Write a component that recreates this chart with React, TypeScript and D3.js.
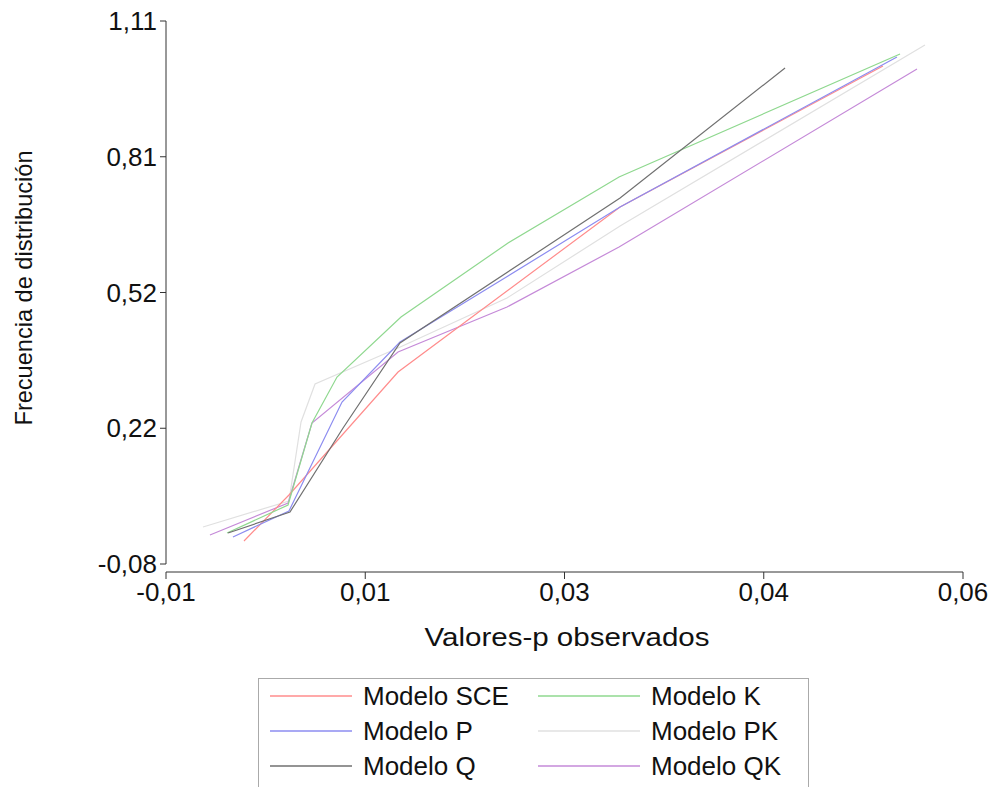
import React from "react";
import * as d3 from "d3";

const seriesNames = ["Modelo SCE", "Modelo K", "Modelo P", "Modelo PK", "Modelo Q", "Modelo QK"];
const seriesColors = ["#ff8c8c", "#8fd88f", "#8c8cf0", "#e0e0e0", "#707070", "#c58ad8"];

const sceX = [-0.00315, 0.0008, 0.01038, 0.02988, 0.05297];
const sceY = [-0.0296, 0.0712, 0.3408, 0.7024, 1.0114];
const kX = [-0.00464, 0.00072, 0.00282, 0.00502, 0.01064, 0.02004, 0.02979, 0.05447];
const kY = [-0.0121, 0.0493, 0.229, 0.3298, 0.4613, 0.6235, 0.7681, 1.0377];
const pX = [-0.00412, 0.0008, 0.00546, 0.01055, 0.02004, 0.02988, 0.0542];
const pY = [-0.0208, 0.0362, 0.275, 0.4065, 0.5512, 0.7024, 1.0311];
const pkX = [-0.00675, 0.0008, 0.00186, 0.00309, 0.01038, 0.01995, 0.02988, 0.05666];
const pkY = [0.0011, 0.0581, 0.2312, 0.3145, 0.3934, 0.5029, 0.6607, 1.0574];
const qX = [-0.00455, 0.00089, 0.00555, 0.01055, 0.02988, 0.04437];
const qY = [-0.0121, 0.034, 0.218, 0.4043, 0.7221, 1.007];
const qkX = [-0.00614, 0.00072, 0.00282, 0.01038, 0.01995, 0.02979, 0.05596];
const qkY = [-0.0164, 0.0537, 0.229, 0.3846, 0.4832, 0.6147, 1.0048];

const xTickValues = [-0.01, 0.0075, 0.025, 0.0425, 0.06];
const xTickLabels = ["-0,01", "0,01", "0,03", "0,04", "0,06"];
const yTickValues = [-0.08, 0.2175, 0.515, 0.8125, 1.11];
const yTickLabels = ["-0,08", "0,22", "0,52", "0,81", "1,11"];

const allX = [sceX, kX, pX, pkX, qX, qkX];
const allY = [sceY, kY, pY, pkY, qY, qkY];

const FONT = "'Liberation Sans', Arial, sans-serif";

export default function App() {
  const x = d3.scaleLinear().domain([-0.01, 0.06]).range([166, 963]);
  const y = d3.scaleLinear().domain([-0.08, 1.11]).range([564, 21]);
  const line = d3
    .line<[number, number]>()
    .x((d) => x(d[0]))
    .y((d) => y(d[1]));
  const axisY = 572;
  const order = [3, 5, 0, 1, 2, 4];
  const legendCols = [270, 538];
  const legendRows = [696, 731, 766];
  return (
    <svg
      width={992}
      height={787}
      style={{ position: "absolute", left: 0, top: 0, background: "#fff" }}
      fontFamily={FONT}
    >
      <rect x={0} y={0} width={992} height={787} fill="#fff" />
      {/* y axis */}
      <line x1={166} x2={166} y1={y(1.11)} y2={y(-0.08)} stroke="#333" strokeWidth={1} />
      {yTickValues.map((v, i) => (
        <g key={"yt" + i}>
          <line x1={160} x2={166} y1={y(v)} y2={y(v)} stroke="#333" />
          <text x={157} y={y(v) + 9} textAnchor="end" fontSize={26} fill="#111">
            {yTickLabels[i]}
          </text>
        </g>
      ))}
      {/* x axis */}
      <line x1={x(-0.01)} x2={x(0.06)} y1={axisY} y2={axisY} stroke="#333" />
      {xTickValues.map((v, i) => (
        <g key={"xt" + i}>
          <line x1={x(v)} x2={x(v)} y1={axisY} y2={axisY + 7} stroke="#333" />
          <text x={x(v)} y={axisY + 29} textAnchor="middle" fontSize={26} fill="#111">
            {xTickLabels[i]}
          </text>
        </g>
      ))}
      <text
        x={567}
        y={646}
        textAnchor="middle"
        fontSize={25}
        fill="#111"
        textLength={285}
        lengthAdjust="spacingAndGlyphs"
      >
        Valores-p observados
      </text>
      <text
        transform="translate(32,288) rotate(-90)"
        textAnchor="middle"
        fontSize={24}
        fill="#111"
        textLength={275}
        lengthAdjust="spacingAndGlyphs"
      >
        Frecuencia de distribución
      </text>
      {/* series */}
      {order.map((si) => {
        const pts: [number, number][] = allX[si].map((xv, j) => [xv, allY[si][j]]);
        return (
          <path
            key={"s" + si}
            d={line(pts) || ""}
            fill="none"
            stroke={seriesColors[si]}
            strokeWidth={1.2}
          />
        );
      })}
      {/* legend */}
      <rect x={258.5} y={678.5} width={550} height={130} fill="#fff" stroke="#aaa" strokeWidth={1} />
      {seriesNames.map((name, i) => {
        const col = i % 2;
        const row = Math.floor(i / 2);
        const lx = legendCols[col];
        const ly = legendRows[row];
        const len = col === 0 ? 82 : 102;
        return (
          <g key={"lg" + i}>
            <line x1={lx} x2={lx + len} y1={ly} y2={ly} stroke={seriesColors[i]} strokeWidth={1.5} />
            <text x={lx + len + 11} y={ly + 9} fontSize={26} fill="#111">
              {name}
            </text>
          </g>
        );
      })}
    </svg>
  );
}
